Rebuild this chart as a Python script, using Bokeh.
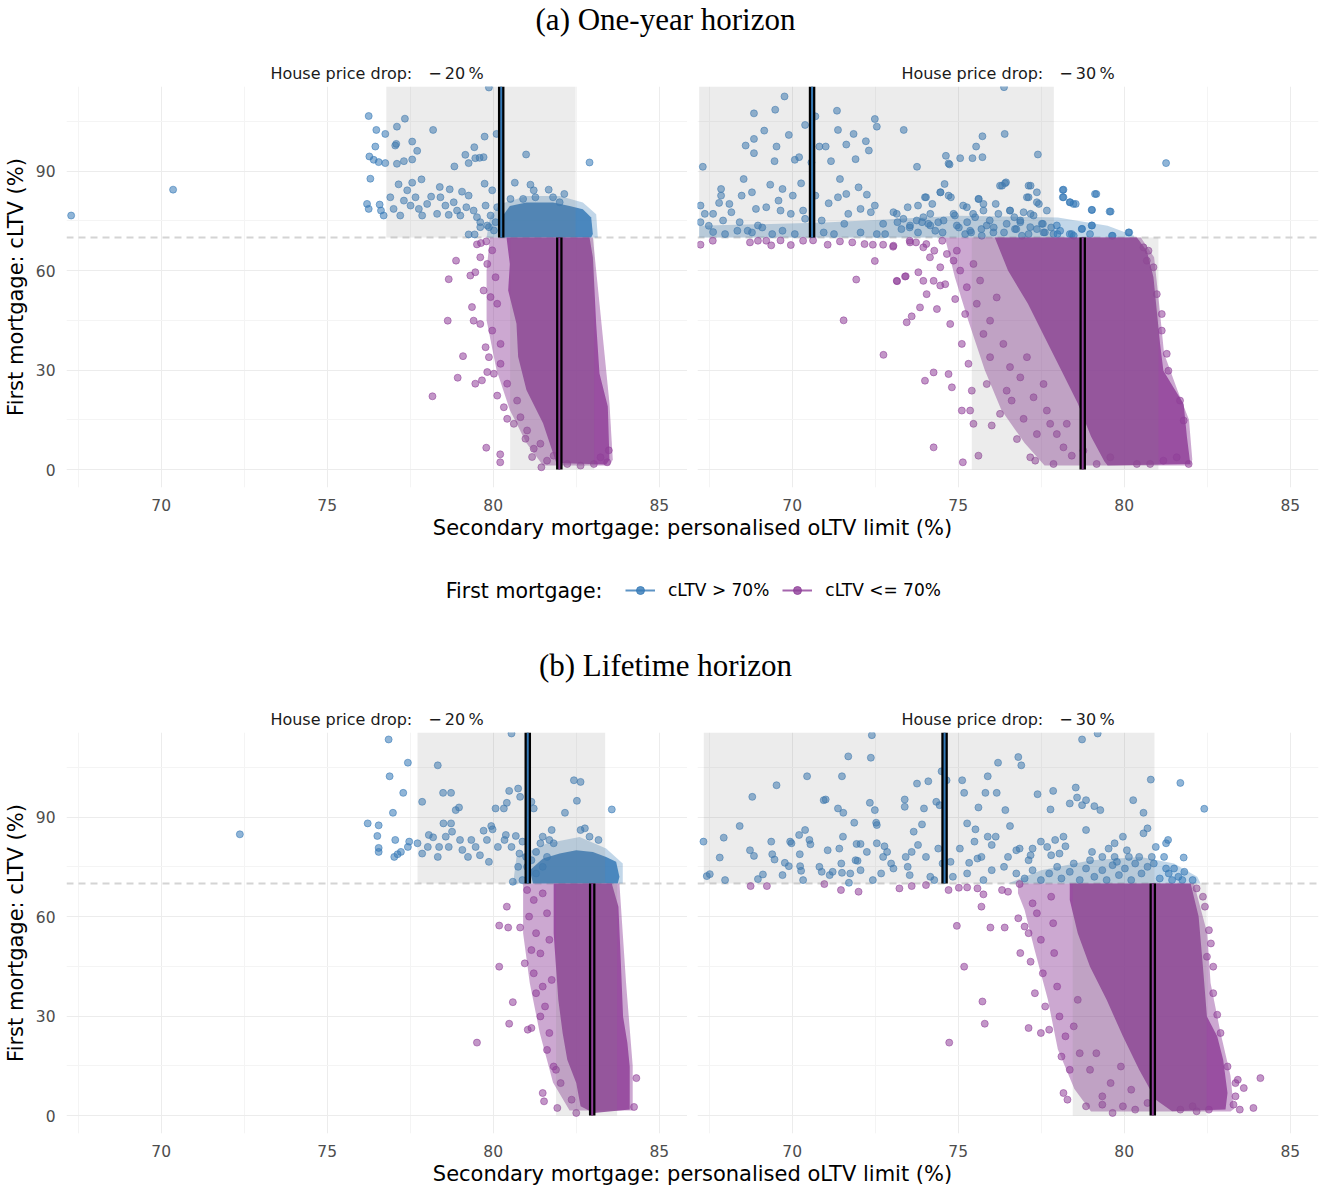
from bokeh.plotting import figure
from bokeh.layouts import column, row
from bokeh.models import FixedTicker, Span, Legend, LegendItem
from bokeh.core.properties import value
from bokeh.embed import file_html
from bokeh.resources import INLINE

BLUE = "#3579B6"
PURPLE = "#8F3F99"
SANS = "DejaVu Sans"
SERIF = "Liberation Serif"

x_lim = (67.15, 85.85)
y_lim = (-5.4, 115.5)
x_ticks = [70, 75, 80, 85]
x_minor = [67.5, 72.5, 77.5, 82.5]
y_ticks = [0, 30, 60, 90]
y_minor = [15, 45, 75, 105]
cltv_cut = 70

section_titles = ["(a) One-year horizon", "(b) Lifetime horizon"]
drops = ["\u221220", "\u221230"]
x_title = "Secondary mortgage: personalised oLTV limit (%)"
y_title = "First mortgage: cLTV (%)"
legend_title = "First mortgage:"
group_labels = ["cLTV > 70%", "cLTV <= 70%"]

# ---- (a) one-year horizon, -20 % ----
a20_hi = [(67.29, 76.6), (70.36, 84.4), (79.87, 115.2),
          (76.25, 106.6), (76.48, 102.4), (76.75, 101.2), (77.10, 103.4), (77.34, 105.8), (76.45, 97.4),
          (77.05, 97.7), (77.08, 98.2), (77.56, 98.9), (77.71, 96.1), (78.19, 102.4), (76.27, 94.4),
          (76.40, 93.4), (76.55, 92.7), (76.75, 92.4), (77.10, 92.2), (77.31, 93.0), (77.56, 93.5),
          (78.83, 91.4), (79.16, 94.9), (79.26, 92.4), (79.43, 97.2), (79.46, 93.9), (79.59, 94.0),
          (79.71, 94.2), (79.74, 100.4), (80.10, 101.2), (80.99, 95.0), (82.90, 92.6), (76.30, 87.7),
          (77.15, 86.0), (77.56, 86.5), (77.84, 87.5), (78.39, 85.2), (78.69, 84.5), (79.06, 83.8),
          (79.74, 86.2), (80.65, 86.5), (81.12, 85.9), (81.22, 84.2), (81.67, 84.4), (81.80, 82.1),
          (82.14, 83.1), (82.00, 80.6), (81.27, 82.1), (80.90, 81.6), (80.52, 81.6),
          (76.20, 80.1), (76.25, 78.6), (76.58, 79.9), (76.62, 78.1), (76.70, 76.6), (76.90, 82.1),
          (77.00, 78.6), (77.20, 76.6), (77.31, 81.1), (77.41, 84.2), (77.51, 79.6), (77.66, 82.1),
          (77.76, 78.6), (77.86, 76.6), (78.01, 80.1), (78.13, 82.3), (78.31, 77.1), (78.41, 82.1),
          (78.56, 79.6), (78.66, 76.8), (78.81, 80.6), (78.91, 78.1), (79.01, 76.6), (79.19, 79.1),
          (79.26, 82.6), (79.41, 78.1), (79.51, 76.1), (79.61, 74.6), (79.77, 79.6), (79.82, 73.6),
          (79.92, 76.6), (79.97, 84.2), (80.02, 72.1), (80.12, 79.1), (79.26, 70.9), (79.44, 70.9),
          (79.87, 73.1), (79.61, 73.1), (80.07, 74.6)]
a20_lo = [(78.88, 63.0), (78.66, 57.4), (78.63, 44.9), (79.09, 34.2), (78.93, 27.7), (78.17, 22.1),
          (79.79, 6.6), (80.21, 4.6), (80.21, 2.2), (81.45, 0.7), (79.31, 58.5), (79.46, 59.5),
          (79.51, 67.9), (79.63, 68.3), (79.79, 68.8), (79.36, 49.0), (79.41, 44.9), (79.77, 36.9),
          (79.82, 29.4), (79.46, 25.9), (79.66, 26.9), (80.02, 28.9), (80.12, 22.3), (80.42, 15.3),
          (80.62, 13.8), (80.97, 9.3), (81.22, 6.3), (81.17, 3.8), (81.82, 4.2), (79.61, 64.0),
          (79.82, 62.0), (79.97, 66.1), (80.07, 58.0), (79.71, 54.0), (79.92, 52.0), (80.12, 50.0),
          (79.61, 43.9), (79.97, 41.9), (80.22, 37.9), (79.87, 33.9), (80.22, 31.9), (80.42, 25.9),
          (80.72, 20.8), (80.32, 18.8), (80.82, 15.8), (81.02, 11.8), (81.42, 7.8), (81.62, 2.7),
          (82.23, 1.7), (82.63, 1.2), (83.03, 1.7), (83.43, 2.2), (83.23, 3.7), (83.48, 5.8)]
a20_hi_core = [(80.25, 70), (80.25, 76), (80.5, 79.5), (81.0, 80.5), (81.8, 80.5), (82.3, 79.5),
               (82.7, 78.5), (82.95, 76), (83.0, 71), (82.95, 70)]
a20_hi_halo = [(79.8, 70), (79.9, 76), (80.2, 80), (81.0, 82.5), (82.0, 82.5), (82.7, 80.5),
               (83.1, 77), (83.15, 70)]
a20_lo_core = [(80.4, 70), (80.5, 62), (80.45, 54), (80.7, 44), (80.75, 34), (81.0, 24), (81.5, 14),
               (81.9, 2), (83.4, 1.5), (83.5, 3), (83.45, 19), (83.2, 29), (83.1, 44), (83.0, 64),
               (82.9, 70)]
a20_lo_halo = [(79.9, 70), (83.0, 70), (83.2, 50), (83.5, 20), (83.6, 3), (83.5, 1.2), (81.5, 1.2),
               (81.0, 8), (80.5, 18), (80.1, 30), (79.8, 45), (79.8, 60)]
a20_boxes = [(76.78, 82.48), (80.51, 83.04)]
a20_medians = [80.24, 81.99]

# ---- (a) one-year horizon, -30 % ----
a30_hi = [(67.31, 91.3), (67.24, 79.6), (67.37, 77.1), (67.24, 74.6), (67.62, 77.1), (67.62, 71.6),
          (67.80, 80.4), (67.86, 84.6), (67.86, 82.6), (67.92, 75.1), (68.11, 80.1), (68.17, 77.6),
          (68.42, 74.6), (68.48, 82.6), (68.54, 87.6), (68.60, 97.7), (68.66, 72.0), (68.79, 83.6),
          (68.85, 99.7), (68.85, 95.4), (68.85, 107.4), (68.91, 78.6), (68.97, 73.6), (69.16, 102.2),
          (69.22, 79.1), (69.34, 85.9), (69.47, 93.0), (69.49, 108.5), (69.53, 97.4), (69.59, 81.1),
          (69.65, 78.1), (69.71, 84.6), (69.77, 112.5), (69.90, 100.9), (69.96, 77.1), (70.02, 82.6),
          (70.08, 93.4), (70.21, 94.2), (70.27, 86.3), (70.33, 78.1), (70.39, 103.9), (70.39, 75.6),
          (70.58, 92.6), (70.70, 106.5), (70.70, 82.6), (70.82, 97.4), (70.89, 75.1), (71.01, 97.4),
          (71.10, 80.3), (71.17, 93.0), (71.35, 108.2), (71.38, 102.4), (71.38, 82.1), (71.44, 87.6),
          (71.57, 74.1), (71.63, 98.0), (71.63, 83.1), (71.69, 77.1), (71.85, 101.2), (71.91, 93.6),
          (72.00, 85.1), (72.06, 78.6), (72.22, 99.0), (72.25, 82.9), (72.31, 96.2), (72.37, 77.6),
          (72.49, 105.7), (72.49, 79.6), (72.55, 103.4), (72.55, 71.0), (72.74, 74.1), (73.05, 77.6),
          (73.17, 74.6), (73.36, 102.4), (73.48, 79.1), (73.54, 73.0), (73.76, 91.3), (73.79, 79.6),
          (73.91, 74.6), (74.03, 82.1), (74.16, 77.1), (74.22, 80.1), (74.40, 74.6), (74.47, 83.6),
          (74.59, 86.1), (74.63, 94.6), (74.71, 92.3), (74.74, 92.0), (74.78, 82.1), (74.90, 76.6),
          (75.06, 93.9), (75.15, 79.6), (75.27, 74.6), (75.43, 93.9), (75.45, 77.1), (75.54, 97.4),
          (75.62, 81.6), (75.73, 100.5), (75.73, 94.2), (75.76, 80.1), (75.95, 75.1), (76.13, 80.1),
          (76.32, 85.6), (76.38, 115.3), (76.40, 101.2), (76.44, 86.6), (76.56, 78.1), (76.69, 76.1),
          (76.87, 74.6), (77.12, 82.1), (77.18, 85.6), (77.18, 77.1), (77.37, 83.6), (77.40, 95.0),
          (77.43, 80.1), (77.55, 74.1), (77.80, 73.0), (78.17, 84.4), (78.17, 82.1), (78.36, 80.6),
          (78.54, 80.1), (78.73, 72.6), (79.03, 78.3), (79.03, 73.6), (79.16, 83.1), (79.59, 77.8),
          (79.65, 70.5), (80.15, 71.5), (81.26, 92.4),
          (67.49, 73.5), (67.98, 71.0), (68.35, 72.0), (68.79, 71.5), (69.10, 73.0), (69.40, 71.0),
          (69.71, 72.0), (70.08, 71.0), (70.95, 71.5), (71.26, 71.0), (72.06, 71.5), (72.80, 71.0),
          (73.29, 72.5), (73.79, 71.5), (74.16, 73.6), (74.53, 71.5), (75.02, 73.0), (75.39, 71.5),
          (75.70, 72.5), (76.07, 73.0), (76.38, 71.5), (76.75, 72.5), (77.12, 71.0), (77.37, 72.5),
          (77.61, 71.5), (77.99, 71.0), (78.36, 71.0), (78.97, 71.0), (78.48, 70.5),
          (74.46, 83.6), (74.00, 82.1), (74.71, 82.6), (75.61, 81.6), (76.26, 85.6), (76.41, 86.3),
          (77.12, 85.6), (77.07, 82.1), (77.37, 80.6), (78.15, 84.3), (78.15, 82.1), (78.37, 80.6),
          (78.47, 80.1), (79.12, 83.1), (79.02, 78.3), (79.56, 77.8), (80.13, 71.5), (79.63, 70.5),
          (79.02, 73.6), (78.72, 72.5), (78.42, 71.0), (78.07, 72.0), (77.87, 71.0), (77.57, 71.5),
          (73.15, 77.1), (73.35, 75.6), (73.55, 73.6), (73.75, 75.1), (73.95, 76.1), (74.10, 74.1),
          (74.31, 72.0), (74.56, 75.1), (74.86, 77.1), (74.96, 73.6), (75.26, 79.1), (75.36, 72.0),
          (75.51, 76.1), (75.76, 78.1), (75.86, 73.6), (76.06, 71.5), (76.21, 77.1), (76.46, 74.1),
          (76.56, 78.1), (76.71, 72.5), (76.87, 75.1), (76.97, 77.6), (77.17, 73.1), (77.27, 76.6),
          (77.52, 74.1), (77.67, 78.1), (77.97, 73.6), (75.21, 71.0), (75.71, 70.5), (76.92, 70.5)]
a30_lo = [(67.24, 67.8), (67.61, 69.0), (68.73, 68.5), (68.97, 69.0), (69.22, 69.0), (69.37, 67.6),
          (69.65, 69.1), (69.96, 67.7), (70.33, 69.0), (70.63, 69.1), (71.07, 67.8), (71.44, 68.8),
          (71.81, 68.5), (72.18, 68.0), (72.43, 67.8), (72.74, 67.8), (73.04, 67.2), (72.49, 62.9),
          (71.93, 57.3), (73.16, 56.8), (73.42, 58.3), (73.54, 69.0), (73.73, 68.5), (74.04, 68.0),
          (74.28, 66.0), (74.52, 69.0), (71.55, 45.0), (72.75, 34.6),
          (73.15, 56.9), (73.40, 58.2), (73.45, 44.4), (73.60, 46.2), (73.80, 59.5), (73.85, 48.9),
          (73.95, 56.9), (74.00, 26.8), (74.05, 52.9), (74.26, 56.9), (74.26, 29.3), (74.26, 6.7),
          (74.36, 48.4), (74.46, 55.5), (74.61, 55.9), (74.71, 28.8), (74.76, 43.9), (74.81, 24.8),
          (74.86, 63.0), (74.91, 51.4), (74.96, 66.0), (75.06, 60.0), (75.11, 37.9), (75.11, 17.8),
          (75.14, 2.2), (75.21, 46.9), (75.31, 31.9), (75.36, 17.8), (75.41, 23.8), (75.46, 13.8),
          (75.61, 4.2), (75.76, 40.9), (75.86, 25.8), (75.96, 33.9), (76.01, 13.3), (76.26, 16.8),
          (76.46, 23.8), (76.61, 20.8), (76.77, 9.2), (76.97, 15.3), (77.17, 3.7), (77.32, 2.7),
          (77.37, 10.7), (77.67, 17.8), (77.87, 1.7), (77.97, 10.7), (78.17, 6.7), (78.42, 4.2),
          (73.05, 67.5), (73.55, 68.5), (73.95, 67.0), (74.15, 64.0), (74.46, 61.0), (74.66, 65.0),
          (75.26, 55.0), (75.46, 62.0), (75.56, 50.0), (75.66, 57.0), (75.96, 44.9), (76.16, 51.9),
          (76.36, 37.9), (76.56, 30.9), (76.87, 27.8), (77.07, 33.9), (77.27, 21.8), (77.57, 25.8),
          (77.77, 13.8), (78.27, 13.8), (78.77, 5.7), (79.17, 1.7), (79.58, 3.7), (80.38, 1.7),
          (80.78, 1.7), (81.18, 2.7), (81.58, 3.7), (81.94, 1.7), (81.79, 14.8), (81.68, 20.8),
          (81.33, 29.8), (81.28, 34.9), (81.13, 41.9), (81.13, 46.9), (80.98, 52.9), (80.88, 61.0),
          (80.68, 63.0), (80.73, 66.0), (80.58, 67.0)]
a30_hi_core = []
a30_hi_halo = [(67.2, 70), (67.2, 73.5), (71.0, 74.5), (75.0, 76.5), (78.0, 76.0), (79.5, 73.5),
               (80.3, 70.5), (80.3, 70)]
a30_lo_core = [(76.1, 70), (80.38, 70), (80.68, 66.0), (80.88, 58.0), (80.98, 47.9), (81.08, 37.9),
               (81.18, 29.8), (81.48, 24.8), (81.79, 19.8), (81.89, 9.7), (81.99, 1.7), (79.5, 1.2),
               (79.4, 2.5), (79.0, 10), (78.6, 20), (78.1, 30), (77.6, 40), (77.1, 50), (76.5, 60)]
a30_lo_halo = [(74.6, 70), (80.5, 70), (80.9, 64), (81.05, 50), (81.2, 35), (81.6, 24), (81.95, 15),
               (82.05, 3), (82.0, 1.2), (77.6, 1.2), (77.0, 8), (76.3, 18), (75.8, 30), (75.3, 45),
               (74.9, 58)]
a30_boxes = [(67.2, 77.88), (75.41, 81.03)]
a30_medians = [70.6, 78.75]

# ---- (b) lifetime horizon, -20 % ----
b20_hi = [(72.37, 84.8), (76.22, 88.1), (76.55, 87.5), (76.51, 84.3), (76.55, 80.7), (76.55, 79.5),
          (76.85, 113.4), (76.88, 102.3), (76.98, 91.3), (77.02, 78.0), (77.05, 83.1), (77.12, 78.8),
          (77.22, 79.5), (77.29, 97.3), (77.43, 81.0), (77.43, 106.4), (77.47, 82.6), (77.72, 82.1),
          (77.86, 94.6), (77.86, 79.0), (78.03, 81.0), (78.06, 84.6), (78.19, 83.9), (78.33, 105.6),
          (78.33, 78.0), (78.37, 81.0), (78.49, 97.3), (78.50, 88.1), (78.57, 84.1), (78.66, 81.0),
          (78.73, 97.3), (78.73, 88.1), (78.76, 85.6), (78.87, 92.1), (78.97, 92.9), (79.00, 83.1),
          (79.07, 80.1), (79.24, 78.0), (79.34, 83.1), (79.47, 81.0), (79.60, 78.5), (79.71, 85.9),
          (79.81, 83.1), (79.87, 76.5), (79.94, 87.3), (79.98, 86.3), (80.07, 92.6), (80.14, 81.0),
          (80.32, 92.6), (80.34, 83.1), (80.38, 84.6), (80.41, 94.3), (80.48, 97.9), (80.55, 81.0),
          (80.59, 70.5), (80.68, 84.3), (80.75, 98.6), (80.79, 79.0), (80.81, 96.1), (80.88, 82.6),
          (81.02, 75.0), (81.22, 92.6), (81.15, 94.6), (80.55, 115.2), (81.42, 82.1), (81.49, 84.1),
          (81.69, 83.1), (81.76, 86.1), (81.82, 82.1), (82.16, 91.3), (82.43, 101.1), (82.52, 94.9),
          (82.63, 100.6), (82.63, 86.1), (82.76, 86.6), (82.90, 84.1), (83.17, 83.1), (83.57, 92.3),
          (81.15, 77.0), (81.29, 73.0), (81.49, 75.0), (81.62, 78.0), (81.29, 79.5), (80.88, 71.0),
          (80.99, 78.0), (80.75, 75.0)]
b20_lo = [(80.41, 63.0), (80.18, 57.3), (80.45, 56.7), (80.81, 56.7), (80.18, 44.9), (80.95, 45.9),
          (80.59, 34.2), (80.48, 27.7), (79.51, 22.0), (81.04, 25.9), (81.15, 26.4), (81.49, 6.8),
          (81.53, 4.3), (81.93, 2.3), (81.02, 68.0), (81.22, 65.0), (81.08, 60.0), (81.29, 55.0),
          (81.15, 49.9), (81.42, 48.9), (81.22, 42.9), (81.49, 38.9), (81.29, 36.9), (81.56, 32.9),
          (81.42, 29.9), (81.69, 24.9), (81.62, 19.8), (81.82, 14.8), (82.03, 9.8), (81.89, 13.8),
          (82.36, 4.8), (82.50, 0.8), (84.31, 11.3), (84.24, 2.6), (81.49, 67.0), (81.62, 61.0),
          (81.69, 53.0), (81.76, 40.9)]
b20_hi_core = [(81.2, 70), (81.1, 74), (81.5, 77.5), (82.0, 79), (82.5, 80), (83.0, 79.5),
               (83.4, 78), (83.7, 76.5), (83.8, 72), (83.75, 70)]
b20_hi_halo = [(80.6, 70), (80.7, 78), (81.6, 82), (82.6, 84), (83.4, 80.5), (83.9, 76), (83.9, 70)]
b20_lo_core = [(81.82, 70), (83.57, 70), (83.77, 63.0), (83.84, 46.9), (83.91, 29.9), (84.04, 21.9),
               (84.11, 14.8), (84.11, 1.8), (83.03, 0.8), (82.63, 2.8), (82.50, 9.8), (82.23, 16.8),
               (82.09, 24.9), (81.96, 34.9), (81.89, 44.9), (81.82, 55.0)]
b20_lo_halo = [(80.9, 70), (83.8, 70), (84.0, 40), (84.2, 15), (84.2, 1.5), (82.3, 1.5), (81.8, 10),
               (81.4, 25), (81.1, 40), (80.9, 55)]
b20_boxes = [(77.72, 83.37), (81.89, 83.73)]
b20_medians = [81.04, 82.98]

# ---- (b) lifetime horizon, -30 % ----
b30_hi = [(67.33, 82.6), (67.43, 72.2), (67.52, 72.8), (67.82, 77.8), (67.94, 83.8), (68.42, 87.3),
          (68.73, 80.0), (68.80, 96.1), (68.85, 78.3), (68.97, 71.3), (69.12, 72.7), (69.37, 82.6),
          (69.40, 78.8), (69.47, 77.2), (69.53, 99.6), (69.78, 76.2), (69.90, 75.2), (69.94, 82.6),
          (69.98, 82.1), (70.21, 84.6), (70.23, 78.8), (70.24, 75.2), (70.27, 73.8), (70.39, 86.1),
          (70.45, 102.3), (70.52, 83.1), (70.55, 81.8), (70.82, 75.0), (70.89, 73.5), (70.95, 95.1),
          (71.01, 95.3), (71.07, 80.0), (71.13, 72.5), (71.22, 73.5), (71.38, 92.6), (71.42, 80.5),
          (71.48, 76.0), (71.50, 73.2), (71.50, 102.3), (71.53, 84.1), (71.54, 91.3), (71.69, 108.3),
          (71.71, 70.2), (71.75, 73.0), (71.87, 88.3), (71.91, 77.0), (71.94, 81.9), (71.97, 76.8),
          (72.06, 74.0), (72.06, 81.9), (72.25, 79.5), (72.34, 94.3), (72.37, 107.9), (72.40, 114.7),
          (72.49, 92.1), (72.53, 88.3), (72.55, 87.6), (72.55, 82.1), (72.68, 73.0), (72.74, 78.0),
          (72.78, 81.2), (72.86, 79.5), (72.98, 76.0), (73.05, 74.5), (73.39, 95.3), (73.39, 93.1),
          (73.42, 78.0), (73.48, 75.0), (73.60, 79.5), (73.66, 85.6), (73.76, 100.1), (73.79, 81.6),
          (73.91, 87.8), (73.97, 92.6), (74.03, 78.0), (74.10, 100.8), (74.16, 72.0), (74.34, 94.6),
          (74.40, 80.5), (74.44, 93.6), (74.50, 103.8), (74.53, 76.0), (74.65, 101.1), (74.77, 76.5),
          (74.84, 72.0), (75.05, 80.5), (75.12, 101.1), (75.18, 97.3), (75.27, 88.1), (75.33, 76.2),
          (75.49, 82.6), (75.52, 86.3), (75.58, 77.5), (75.61, 92.9), (75.70, 78.0), (75.82, 97.3),
          (75.89, 102.3), (75.89, 84.1), (76.01, 81.6), (76.13, 84.1), (76.16, 97.3), (76.20, 106.4),
          (76.38, 75.0), (76.42, 92.1), (76.50, 78.0), (76.56, 87.3), (76.75, 80.0), (76.81, 108.1),
          (76.85, 80.5), (76.90, 105.6), (77.12, 77.0), (77.18, 78.5), (77.24, 80.5), (77.39, 96.9),
          (77.49, 82.6), (77.68, 81.0), (77.78, 92.3), (77.80, 78.5), (77.86, 97.9), (77.92, 83.1),
          (78.05, 79.0), (78.17, 84.1), (78.23, 81.2), (78.36, 94.1), (78.54, 98.9), (78.58, 95.9),
          (78.73, 113.4), (78.73, 93.6), (78.85, 86.1), (78.85, 95.1), (79.03, 79.5), (79.10, 93.3),
          (79.20, 115.2), (79.28, 92.1), (79.34, 78.0), (79.53, 80.5), (79.71, 82.1), (79.78, 76.5),
          (79.96, 84.1), (80.08, 80.0), (80.27, 95.1), (80.45, 78.0), (80.58, 91.3), (80.58, 85.1),
          (80.70, 86.6), (80.80, 101.3), (80.83, 78.0), (80.89, 76.0), (80.95, 81.0), (81.20, 78.0),
          (81.26, 82.1), (81.32, 83.1), (81.34, 73.0), (81.50, 74.5), (81.69, 100.3), (81.63, 72.0),
          (81.79, 77.8), (81.81, 73.5), (82.06, 71.0), (82.41, 92.5),
          (76.75, 73.0), (77.00, 71.5), (77.24, 74.0), (77.49, 71.0), (77.74, 73.0), (77.98, 75.0),
          (78.11, 71.5), (78.36, 73.5), (78.48, 76.0), (78.66, 71.0), (78.85, 74.5), (78.97, 77.0),
          (79.10, 72.0), (79.34, 74.0), (79.47, 71.0), (79.65, 75.5), (79.84, 72.5), (80.02, 74.5),
          (80.21, 71.0), (80.33, 76.0), (80.52, 73.0), (80.70, 75.0), (81.07, 71.5), (81.26, 74.5),
          (81.44, 71.0), (81.75, 71.0), (79.71, 78.0), (80.14, 78.0), (75.27, 73.0), (75.76, 71.0),
          (76.01, 74.0), (74.28, 71.0), (73.54, 72.5), (72.43, 71.0), (70.33, 71.0), (69.71, 72.5),
          (67.98, 71.0)]
b30_lo = [(68.75, 69.2), (69.24, 69.2), (70.97, 69.8), (71.47, 68.0), (72.00, 67.5), (73.23, 68.5),
          (73.60, 69.2), (74.03, 69.5), (74.71, 68.0), (75.02, 68.7), (75.27, 68.8), (75.58, 68.5),
          (75.70, 63.0), (75.76, 66.7), (74.96, 57.2), (75.18, 44.9), (75.73, 34.4), (75.80, 27.7),
          (74.73, 22.0), (75.97, 56.7), (76.40, 56.7), (76.32, 68.0), (76.50, 67.5), (76.85, 69.8),
          (76.81, 59.5), (77.00, 57.0), (77.12, 55.0), (76.87, 49.0), (77.18, 46.4), (77.24, 64.0),
          (77.37, 61.0), (77.31, 36.9), (77.49, 53.0), (77.55, 42.9), (77.62, 32.9), (77.12, 26.4),
          (77.49, 24.9), (77.74, 25.9), (77.80, 66.0), (77.86, 58.0), (77.89, 49.0), (77.98, 38.9),
          (78.11, 17.8), (78.17, 6.8), (78.29, 4.8), (78.36, 13.8), (78.05, 29.9), (78.23, 23.9),
          (78.48, 26.9), (78.60, 34.9), (78.66, 18.8), (78.85, 2.8), (78.97, 13.8), (79.16, 18.8),
          (79.34, 5.8), (79.34, 3.3), (79.59, 9.8), (79.65, 0.8), (79.96, 2.8), (79.90, 14.8),
          (80.21, 7.8), (80.33, 1.8), (80.70, 3.8), (82.68, 44.9), (82.61, 51.9), (82.68, 36.9),
          (82.80, 30.4), (82.90, 24.9), (83.11, 14.8), (83.35, 9.8), (83.42, 10.8), (83.60, 8.3),
          (84.10, 11.3), (83.35, 5.8), (83.29, 3.3), (83.48, 1.8), (83.89, 2.3), (82.43, 63.0),
          (82.37, 66.0), (82.18, 68.5), (82.55, 55.9), (82.49, 47.9), (81.69, 1.8), (82.18, 1.3),
          (82.55, 1.8), (82.06, 2.8)]
b30_hi_core = []
b30_hi_halo = [(76.5, 70), (77.5, 74), (79.0, 77), (80.5, 78), (81.5, 76), (82.2, 72), (82.3, 70)]
b30_lo_core = [(78.36, 70), (82.00, 70), (82.24, 60.0), (82.37, 44.9), (82.49, 29.9), (82.80, 23.9),
               (82.98, 16.8), (83.11, 6.8), (83.05, 1.8), (81.44, 1.3), (80.95, 4.8), (80.45, 13.8),
               (79.96, 23.9), (79.47, 34.9), (78.97, 44.9), (78.60, 55.0), (78.36, 65.0)]
b30_lo_halo = [(76.8, 70), (82.1, 70), (82.5, 55), (82.6, 40), (82.9, 25), (83.2, 12), (83.3, 2),
               (83.2, 1.2), (79.0, 1.2), (78.5, 8), (78.0, 20), (77.7, 35), (77.3, 50), (77.0, 62),
               (76.8, 67)]
b30_boxes = [(67.34, 80.91), (78.45, 82.48)]
b30_medians = [74.59, 80.86]


def xy(pts):
    return [p[0] for p in pts], [p[1] for p in pts]


def bare(w, h):
    p = figure(width=w, height=h, x_range=(0, w), y_range=(0, h), output_backend="svg",
               toolbar_location=None, min_border=0, x_axis_location=None, y_axis_location=None)
    p.outline_line_color = None
    p.grid.visible = False
    return p


def label(p, x, y, txt, size, font=SANS, align="center"):
    p.text(x=[x], y=[y], text=[txt], text_align=align, text_baseline="middle",
           text_font=value(font), text_font_size=value(size), text_color="black")


def panel(drop, groups, boxes, medians, first):
    p = figure(width=687 if first else 633, height=470, x_range=x_lim, y_range=y_lim,
               output_backend="svg", toolbar_location=None,
               min_border_left=65 if first else 10, min_border_right=0 if first else 2,
               min_border_top=42, min_border_bottom=27)
    p.outline_line_color = None
    p.title.text = "House price drop:\u2002\u2002" + drop.replace("\u2212", "\u2212\u2009") + "\u2009%"
    p.title.align = "center"
    p.title.text_font = SANS
    p.title.text_font_size = "16px"
    p.title.text_font_style = "normal"
    p.title.text_color = "#1a1a1a"
    p.title.standoff = 8

    xt = FixedTicker(ticks=x_ticks, minor_ticks=x_minor)
    yt = FixedTicker(ticks=y_ticks, minor_ticks=y_minor)
    p.xaxis.ticker = xt
    p.yaxis.ticker = yt
    p.xgrid.ticker = xt
    p.ygrid.ticker = yt
    p.grid.grid_line_color = "#ececec"
    p.grid.minor_grid_line_color = "#f4f4f4"
    for ax in (p.xaxis, p.yaxis):
        ax.axis_line_color = None
        ax.major_tick_line_color = None
        ax.minor_tick_line_color = None
        ax.major_tick_out = 0
        ax.major_tick_in = 0
        ax.major_label_standoff = 7
        ax.major_label_text_font = SANS
        ax.major_label_text_font_size = "15.5px"
        ax.major_label_text_color = "#4d4d4d"
    if first:
        p.yaxis.axis_label = y_title
        p.yaxis.axis_label_text_font = SANS
        p.yaxis.axis_label_text_font_size = "21px"
        p.yaxis.axis_label_text_font_style = "normal"
        p.yaxis.axis_label_text_color = "black"
        p.yaxis.axis_label_standoff = 5
    else:
        p.yaxis.visible = False

    p.add_layout(Span(location=cltv_cut, dimension="width", line_color="#d4d4d4",
                      line_dash="7 5", line_width=2, level="underlay"))

    for (pts, core, halo), col, halo_alpha in zip(groups, (BLUE, PURPLE), (0.3, 0.45)):
        if halo:
            hx, hy = xy(halo)
            p.patch(hx, hy, fill_color=col, fill_alpha=halo_alpha, line_color=None)
        if core:
            cx, cy = xy(core)
            p.patch(cx, cy, fill_color=col, fill_alpha=0.85, line_color=None)
        px, py = xy(pts)
        p.scatter(px, py, size=7, fill_color=col, fill_alpha=0.55, line_color=col, line_alpha=0.55)

    top = y_lim[1]
    p.quad(left=[boxes[0][0], boxes[1][0]], right=[boxes[0][1], boxes[1][1]],
           bottom=[cltv_cut, 0], top=[top, cltv_cut],
           fill_color="#7f7f7f", fill_alpha=0.15, line_color=None)
    p.segment(x0=medians, x1=medians, y0=[cltv_cut, 0], y1=[top, cltv_cut],
              line_color="black", line_width=6.5)
    p.segment(x0=medians, x1=medians, y0=[cltv_cut, 0], y1=[top, cltv_cut],
              line_color=[BLUE, PURPLE], line_width=2)
    return p


a_left = panel(drops[0], [(a20_hi, a20_hi_core, a20_hi_halo), (a20_lo, a20_lo_core, a20_lo_halo)],
               a20_boxes, a20_medians, True)
a_right = panel(drops[1], [(a30_hi, a30_hi_core, a30_hi_halo), (a30_lo, a30_lo_core, a30_lo_halo)],
                a30_boxes, a30_medians, False)
b_left = panel(drops[0], [(b20_hi, b20_hi_core, b20_hi_halo), (b20_lo, b20_lo_core, b20_lo_halo)],
               b20_boxes, b20_medians, True)
b_right = panel(drops[1], [(b30_hi, b30_hi_core, b30_hi_halo), (b30_lo, b30_lo_core, b30_lo_halo)],
                b30_boxes, b30_medians, False)

W = 1320
head = bare(W, 44)
label(head, 665, 25, section_titles[0], "31px", font=SERIF)

mid = bare(W, 176)
label(mid, 692, 163, x_title, "21px")
label(mid, 602, 100, legend_title, "20.5px", align="right")
label(mid, 665, 25, section_titles[1], "31px", font=SERIF)
items = []
for name, col in zip(group_labels, (BLUE, PURPLE)):
    # off-canvas points: these renderers only feed the legend keys
    ln = mid.line(x=[-1000, -999], y=[-1000, -1000], line_color=col, line_width=2, line_alpha=0.8)
    dot = mid.scatter(x=[-1000], y=[-1000], size=6, fill_color=col, line_color=col, alpha=0.8)
    items.append(LegendItem(label=name, renderers=[ln, dot]))
legend = Legend(items=items, orientation="horizontal", location=(625, 90),
                border_line_color=None, background_fill_alpha=0, padding=0, margin=0,
                spacing=13, glyph_width=30, glyph_height=20, label_height=20, label_standoff=13,
                label_text_font=SANS, label_text_font_size="17px", label_text_color="black")
mid.add_layout(legend)

foot = bare(W, 28)
label(foot, 692, 15, x_title, "21px")

layout = column(head, row(a_left, a_right), mid, row(b_left, b_right), foot)
open("out.html", "w").write(file_html(layout, INLINE))
